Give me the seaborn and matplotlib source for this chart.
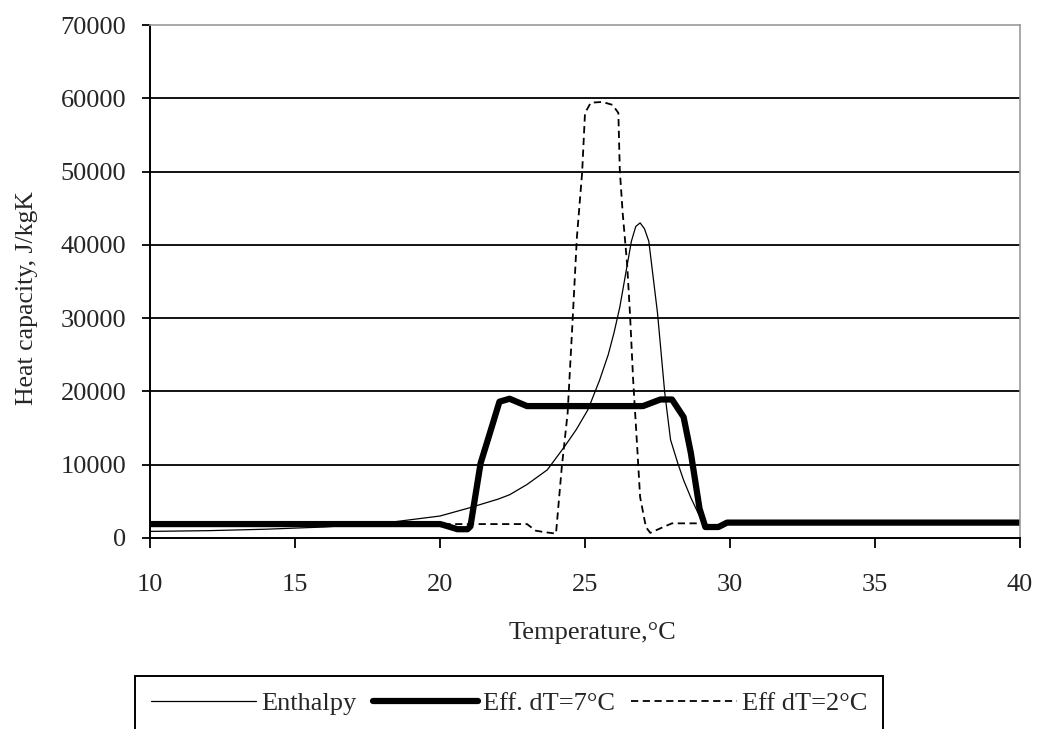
import matplotlib
matplotlib.use('Agg')
import matplotlib.pyplot as plt
import seaborn as sns
import pandas as pd

# Enthalpy method
t_enthalpy = [10, 12, 14, 16, 18, 19, 20, 21, 22, 22.4, 23, 23.7, 24.3, 24.7, 25.1, 25.5, 25.8, 26.0,
              26.2, 26.4, 26.6, 26.75, 26.9, 27.05, 27.2, 27.5, 27.75, 27.95, 28.2, 28.4, 28.65, 28.9,
              29.1, 29.5, 30, 40]
cp_enthalpy = [900, 1000, 1200, 1500, 2000, 2500, 3000, 4100, 5300, 5900, 7300, 9300, 12500, 14800,
               17500, 21500, 25000, 28000, 31500, 36000, 40500, 42500, 43000, 42200, 40500, 30700, 19800,
               13400, 10200, 7900, 5500, 3400, 1800, 1700, 2000, 2000]

# effective heat capacity, dT = 7 C
t_eff7 = [10, 20, 20.1, 20.6, 20.95, 21.05, 21.4, 21.75, 22.05, 22.4, 23.0, 27.0, 27.6, 28.0, 28.4,
          28.65, 28.95, 29.15, 29.6, 29.9, 40]
cp_eff7 = [1900, 1900, 1800, 1200, 1200, 1600, 10200, 14700, 18600, 19000, 18000, 18000, 18900, 18900,
           16500, 11600, 4000, 1500, 1500, 2100, 2100]

# effective heat capacity, dT = 2 C
t_eff2 = [10, 23.0, 23.3, 23.6, 24.0, 24.2, 24.4, 24.55, 24.72, 24.9, 25.0, 25.2, 25.6, 25.95, 26.15,
          26.2, 26.3, 26.45, 26.55, 26.66, 26.8, 26.9, 27.1, 27.25, 27.7, 28.0, 29.0]
cp_eff2 = [1900, 1900, 1000, 800, 600, 9700, 17000, 28000, 41000, 49800, 58000, 59400, 59500, 59100,
           58000, 50200, 44300, 37500, 30700, 21600, 12400, 5600, 1500, 700, 1500, 2000, 2000]

sns.set_theme(style='white')
plt.rcParams['font.family'] = ['Liberation Serif', 'DejaVu Serif']

fig = plt.figure(figsize=(10.4, 7.29), dpi=100)
ax = fig.add_axes([150 / 1040, (729 - 538) / 729, 870 / 1040, 513 / 729])

df_h = pd.DataFrame({'T': t_enthalpy, 'cp': cp_enthalpy})
df_7 = pd.DataFrame({'T': t_eff7, 'cp': cp_eff7})
df_2 = pd.DataFrame({'T': t_eff2, 'cp': cp_eff2})

sns.lineplot(data=df_h, x='T', y='cp', ax=ax, color='black', lw=0.9, sort=False, label='Enthalpy')
sns.lineplot(data=df_7, x='T', y='cp', ax=ax, color='black', lw=4.5, sort=False, label='Eff. dT=7°C')
sns.lineplot(data=df_2, x='T', y='cp', ax=ax, color='black', lw=1.3, sort=False,
             linestyle=(0, (4, 2.5)), label='Eff dT=2°C')

ax.set_xlim(10, 40)
ax.set_ylim(0, 70000)
ax.set_xticks([10, 15, 20, 25, 30, 35, 40])
ax.set_yticks(range(0, 70001, 10000))

# horizontal gridlines
for y in range(10000, 70000, 10000):
    ax.axhline(y, color='black', lw=1.3, zorder=0.5)

for s in ['top', 'right']:
    ax.spines[s].set_color('#999999')
    ax.spines[s].set_linewidth(1.2)
for s in ['left', 'bottom']:
    ax.spines[s].set_color('black')
    ax.spines[s].set_linewidth(1.4)

ax.tick_params(axis='x', direction='out', length=7, width=1.3, color='black', labelsize=19, pad=19,
               bottom=True)
ax.tick_params(axis='y', direction='out', length=6, width=1.3, color='black', labelsize=19, pad=11,
               left=True)

ax.set_xlabel('Temperature,°C', fontsize=19)
ax.set_ylabel('Heat capacity, J/kgK', fontsize=18.5)
ax.xaxis.set_label_coords(0.508, -0.164)
ax.yaxis.set_label_coords(-0.129, 0.468)

ax.legend_.remove()
h, l = ax.get_legend_handles_labels()
leg = fig.legend(h, l, loc='upper center', bbox_to_anchor=(509 / 1040, (729 - 676) / 729), ncol=3,
                 fontsize=19, frameon=True, fancybox=False, edgecolor='black', framealpha=1,
                 handlelength=4.0, handletextpad=0.2, columnspacing=0.6, borderpad=0.6,
                 borderaxespad=0)
leg.get_frame().set_linewidth(1.4)

fig.savefig('out.png', dpi=100)
